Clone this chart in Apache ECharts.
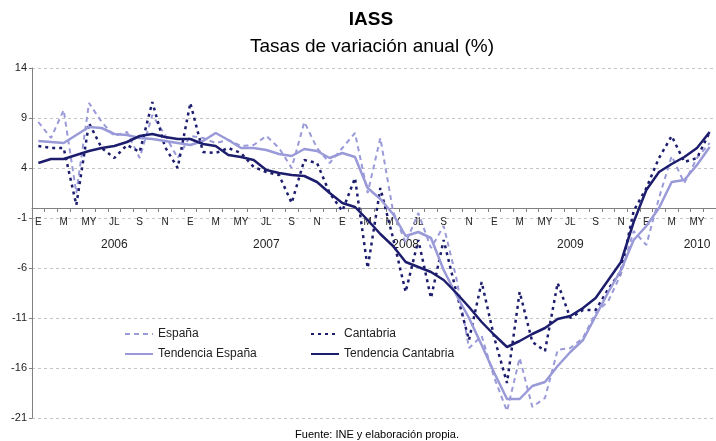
<!DOCTYPE html>
<html><head><meta charset="utf-8">
<script src="https://cdn.jsdelivr.net/npm/echarts@6/dist/echarts.min.js"></script>
<style>html,body{margin:0;padding:0;background:#fff}#c{width:716px;height:441px}</style>
</head><body><div id="c"></div>
<script>
// ---- data ----
const monthLabels = ['E','F','M','A','MY','JN','JL','AG','S','O','N','D'];
const years = ['2006','2007','2008','2009','2010'];
const monthsPerYear = [12, 12, 12, 12, 6];
const yearLabelPos = [6, 18, 29, 42, 52];
const yTicks = [-21, 14, 5]; // min, max, step

const espana = [8.6, 7.0, 9.8, 1.5, 10.5, 8.6, 7.2, 7.6, 5.0, 9.3, 7.3, 5.0,
  7.2, 7.0, 6.5, 6.8, 6.2, 6.3, 7.2, 6.0, 4.0, 8.6, 6.0, 4.5,
  6.0, 7.5, 1.5, 7.0, -0.3, -3.5, -0.5, -4.0, -1.8, -7.0, -14.0, -12.8,
  -17.0, -20.3, -15.0, -19.9, -19.0, -14.2, -14.0, -13.0, -10.5, -9.3, -6.6, -2.3,
  -3.7, 1.0, 5.2, 2.5, 5.0, 6.5];
const cantabria = [6.2, 6.0, 6.0, 0.3, 8.5, 6.0, 5.0, 6.3, 5.6, 10.6, 6.1, 4.0,
  10.5, 5.6, 5.5, 6.0, 5.5, 4.1, 3.6, 3.3, 0.5, 4.8, 4.5, 1.5,
  -0.3, 3.0, -6.0, 2.0, -3.0, -8.4, -3.2, -9.0, -3.2, -8.4, -13.2, -7.4,
  -13.0, -17.5, -8.4, -13.4, -14.3, -7.5, -11.0, -10.2, -10.2, -8.1, -6.3, -0.3,
  2.0, 5.0, 7.2, 4.6, 5.0, 7.6];
const tendEspana = [6.7, 6.6, 6.5, 7.3, 8.1, 8.0, 7.4, 7.3, 7.0, 6.9, 6.7, 6.5,
  6.3, 6.7, 7.5, 6.8, 6.0, 6.0, 5.8, 5.4, 5.2, 5.9, 5.7, 5.0,
  5.5, 5.1, 2.0, 0.9, -0.6, -2.8, -2.4, -3.0, -6.2, -8.7, -11.0, -13.7,
  -16.5, -19.1, -19.1, -17.8, -17.4, -15.8, -14.4, -13.2, -10.8, -8.4, -6.2, -3.2,
  -1.8, 0.0, 2.6, 2.8, 4.3, 6.1];
const tendCantabria = [4.5, 4.9, 4.9, 5.3, 5.7, 6.0, 6.2, 6.6, 7.2, 7.4, 7.1, 6.9,
  6.9, 6.4, 6.2, 5.3, 5.1, 4.8, 3.8, 3.5, 3.3, 3.2, 2.6, 1.5,
  0.5, 0.1, -1.2, -2.6, -3.8, -5.4, -5.9, -6.4, -7.2, -8.5, -9.9, -11.4,
  -12.7, -13.9, -13.3, -12.6, -12.0, -11.1, -10.8, -10.0, -9.0, -7.2, -5.4, -1.4,
  1.8, 3.6, 4.4, 5.1, 6.0, 7.6];

// categories built from years and month lists
const categories = [];
years.forEach((y, yi) => { for (let m = 0; m < monthsPerYear[yi]; m++) categories.push(y + '-' + (m + 1)); });

const LIGHT = '#9a9ad8';
const DARK = '#1d1d6e';
const FONT = '"Liberation Sans", Arial, sans-serif';

const legendBase = {orient: 'vertical', top: 323, itemWidth: 28, itemHeight: 14, itemGap: 8,
  itemStyle: {opacity: 0, borderWidth: 0},
  textStyle: {fontSize: 12, color: '#222', fontFamily: FONT}};

const chart = echarts.init(document.getElementById('c'), null, {renderer: 'canvas'});
chart.setOption({
  animation: false,
  backgroundColor: '#fff',
  textStyle: {fontFamily: FONT},
  graphic: [
    {type: 'text', x: 371, y: 20, style: {text: 'IASS', font: 'bold 19px ' + FONT, fill: '#000', align: 'center', verticalAlign: 'middle'}},
    {type: 'text', x: 372, y: 47, style: {text: 'Tasas de variación anual (%)', font: '19px ' + FONT, fill: '#000', align: 'center', verticalAlign: 'middle'}},
    {type: 'text', x: 377, y: 435, style: {text: 'Fuente: INE y elaboración propia.', font: '11px ' + FONT, fill: '#000', align: 'center', verticalAlign: 'middle'}}
  ],
  legend: [
    Object.assign({left: 119, data: ['España', 'Tendencia España']}, legendBase),
    Object.assign({left: 305, data: ['Cantabria', 'Tendencia Cantabria']}, legendBase)
  ],
  grid: {left: 32, right: -6, top: 68, bottom: 23, containLabel: false},
  xAxis: [
    {type: 'category', data: categories, position: 'bottom', offset: -210,
     axisLine: {onZero: false, lineStyle: {color: '#808080', width: 1}},
     axisTick: {show: true, interval: 0, length: 4, lineStyle: {color: '#808080'}},
     axisLabel: {interval: 1, margin: 9, fontSize: 10, color: '#222', fontFamily: FONT,
       formatter: (v, i) => monthLabels[i % 12]},
     splitLine: {show: false}},
    {type: 'category', data: categories, position: 'bottom', offset: -210,
     axisLine: {show: false, onZero: false}, axisTick: {show: false},
     axisLabel: {interval: (i) => yearLabelPos.indexOf(i) >= 0, margin: 31, fontSize: 12, color: '#222', fontFamily: FONT,
       formatter: (v, i) => years[yearLabelPos.indexOf(i)] || ''},
     splitLine: {show: false}}
  ],
  yAxis: {type: 'value', min: yTicks[0], max: yTicks[1], interval: yTicks[2],
    axisLine: {show: true, lineStyle: {color: '#808080'}},
    axisTick: {show: true, length: 3, lineStyle: {color: '#808080'}},
    axisLabel: {fontSize: 11, color: '#222', margin: 5, fontFamily: FONT},
    splitLine: {show: true, lineStyle: {color: '#c4c4c4', type: [3, 3], width: 1}}},
  series: [
    {name: 'España', type: 'line', data: espana, symbol: 'none', xAxisIndex: 0,
     lineStyle: {color: LIGHT, width: 2, type: [5, 4]}, itemStyle: {color: LIGHT}},
    {name: 'Cantabria', type: 'line', data: cantabria, symbol: 'none', xAxisIndex: 0,
     lineStyle: {color: DARK, width: 2.5, type: [3, 4]}, itemStyle: {color: DARK}},
    {name: 'Tendencia España', type: 'line', data: tendEspana, symbol: 'none', xAxisIndex: 0,
     lineStyle: {color: LIGHT, width: 2.5}, itemStyle: {color: LIGHT}},
    {name: 'Tendencia Cantabria', type: 'line', data: tendCantabria, symbol: 'none', xAxisIndex: 0,
     lineStyle: {color: DARK, width: 2.5}, itemStyle: {color: DARK}}
  ]
});
</script>
</body></html>
